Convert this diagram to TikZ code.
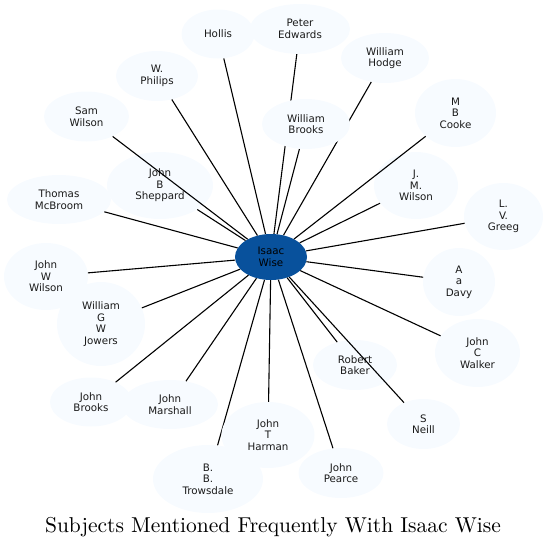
\documentclass[tikz,border=0pt]{standalone}
\usepackage{fontspec}
\newfontfamily\nodefont{DejaVu Sans}
\newfontfamily\titlefont{lmroman10-regular.otf}
\usetikzlibrary{shapes.geometric}
\definecolor{nodefill}{HTML}{F7FBFF}
\definecolor{hubfill}{HTML}{08519C}
\definecolor{txt}{HTML}{1A1A1A}
\pgfdeclarelayer{front}
\pgfsetlayers{main,front}
\tikzset{
  person/.style={ellipse, fill=nodefill, inner sep=0pt, align=center,
    font=\nodefont\fontsize{10.3}{11.5}\selectfont, text=txt},
  hub/.style={person, fill=hubfill, text=black},
  link/.style={draw=black, line width=1.1pt},
}
\begin{document}
\begin{tikzpicture}[x=1pt,y=1pt]
\useasboundingbox (0,0) rectangle (547,-549);
\node[hub, minimum width=72, minimum height=46] (wise) at (271,-257) {Isaac\\Wise};
\node[person, minimum width=73, minimum height=49] (hollis) at (218,-34) {Hollis};
\node[person, minimum width=100, minimum height=50] (edwards) at (300,-29) {Peter\\Edwards};
\node[person, minimum width=88, minimum height=50] (hodge) at (385,-58) {William\\Hodge};
\node[person, minimum width=82, minimum height=50] (philips) at (157,-76) {W.\\Philips};
\node[person, minimum width=85, minimum height=50] (samwilson) at (86.5,-116.5) {Sam\\Wilson};
\node[person, minimum width=81, minimum height=68] (cooke) at (455.5,-113) {M\\B\\Cooke};
\node[person, minimum width=106, minimum height=67] (sheppard) at (160,-185.5) {John\\B\\Sheppard};
\node[person, minimum width=104, minimum height=49] (mcbroom) at (59,-199.5) {Thomas\\McBroom};
\node[person, minimum width=84, minimum height=67] (jmwilson) at (416,-185.5) {J.\\M.\\Wilson};
\node[person, minimum width=79, minimum height=67] (greeg) at (503.5,-216.5) {L.\\V.\\Greeg};
\node[person, minimum width=84, minimum height=67] (jwwilson) at (46,-276.5) {John\\W\\Wilson};
\node[person, minimum width=72, minimum height=68] (davy) at (459,-282) {A\\a\\Davy};
\node[person, minimum width=88, minimum height=84] (jowers) at (101,-324) {William\\G\\W\\Jowers};
\node[person, minimum width=85, minimum height=68] (walker) at (477.5,-353) {John\\C\\Walker};
\node[person, minimum width=84, minimum height=50] (baker) at (355,-365) {Robert\\Baker};
\node[person, minimum width=82, minimum height=49] (jbrooks) at (91,-402) {John\\Brooks};
\node[person, minimum width=96, minimum height=49] (marshall) at (170,-404.5) {John\\Marshall};
\node[person, minimum width=73, minimum height=50] (neill) at (423.5,-424) {S\\Neill};
\node[person, minimum width=85, minimum height=50] (pearce) at (341,-473) {John\\Pearce};
\node[person, minimum width=110, minimum height=68] (trowsdale) at (208,-479) {B.\\B.\\Trowsdale};
\begin{pgfonlayer}{front}
\node[person, minimum width=88, minimum height=50] (wbrooks) at (306,-124) {William\\Brooks};
\node[person, minimum width=93, minimum height=66] (harman) at (268,-435) {John\\T\\Harman};
\end{pgfonlayer}
\foreach \n in {hollis,edwards,hodge,philips,samwilson,wbrooks,cooke,sheppard,mcbroom,jmwilson,greeg,jwwilson,davy,jowers,walker,baker,jbrooks,marshall,neill,harman,pearce,trowsdale}
  \draw[link] (wise) -- (\n);
\node[font=\titlefont\fontsize{21.5}{25}\selectfont, anchor=base, inner sep=0pt] (title) at (273,-532) {Subjects Mentioned Frequently With Isaac Wise};
\end{tikzpicture}
\end{document}
